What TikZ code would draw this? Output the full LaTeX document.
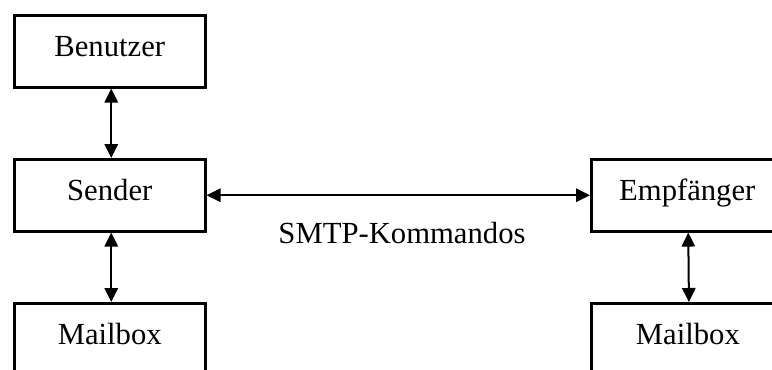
\documentclass[tikz,border=0pt]{standalone}
\usepackage{fontspec}
\setmainfont{Liberation Serif}
\usetikzlibrary{arrows.meta}
\begin{document}
\begin{tikzpicture}[x=0.75pt,y=-0.75pt,
  box/.style={draw,line width=1.9pt,inner sep=0pt,minimum width=143.25pt,
    text height=30.6pt,text depth=23.4pt,font=\fontsize{23}{27}\selectfont},
  openbox/.style={box,text depth=34pt},
  link/.style={line width=1.5pt,{Triangle[length=10.5pt,width=10pt]}-{Triangle[length=10.5pt,width=10pt]}},
  lbl/.style={inner sep=0pt,anchor=base,font=\fontsize{23}{27}\selectfont}]
\useasboundingbox (0,0) rectangle (772,369);
\clip (0,0) rectangle (772,369);
% left column: user, sender, mailbox
\node[box,anchor=north west] (ben) at (13,14) {Benutzer};
\node[box,anchor=north west] (snd) at (13,158) {Sender};
\node[openbox,anchor=north west] (mbl) at (13,302) {Mailbox};
% right column: receiver and its mailbox (run past the right edge)
\node[box,anchor=north west,minimum width=144pt] (emp) at (590,158) {Empfänger};
\node[openbox,anchor=north west,minimum width=145pt] (mbr) at (590,302) {Mailbox};
% connectors
\draw[link] ([xshift=1.1pt]ben.south) -- ([xshift=1.1pt]snd.north);
\draw[link] ([xshift=1.1pt]snd.south) -- ([xshift=1.1pt]mbl.north);
\draw[link] ([xshift=0.75pt]emp.south) -- ([xshift=0.75pt]mbr.north);
\draw[link] (snd.east) -- (emp.west);
\node[lbl] (smtp) at (402,243) {SMTP-Kommandos};
\end{tikzpicture}
\end{document}
